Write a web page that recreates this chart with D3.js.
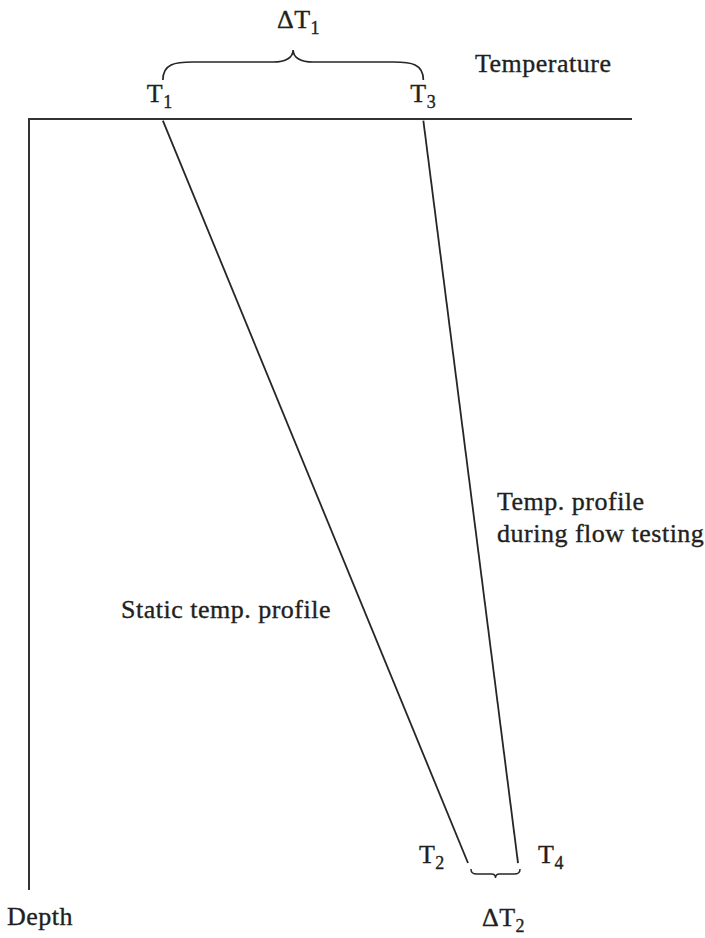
<!DOCTYPE html>
<html>
<head>
<meta charset="utf-8">
<script src="https://cdn.jsdelivr.net/npm/d3@7"></script>
<style>
  html, body { margin: 0; padding: 0; background: #fff; }
  svg text { font-family: "Liberation Serif", "Times New Roman", serif; fill: #231f20;
             stroke: #231f20; stroke-width: 0.35px; letter-spacing: 0.5px; }
</style>
</head>
<body>
<svg id="chart" width="705" height="938"></svg>
<script>
// Temperature (x, arbitrary units) and depth (y, arbitrary units) of two well profiles
const profileNames = ["Static temp. profile", "Temp. profile during flow testing"];
const topTemps = [22.2, 65.4];        // T1, T3 at surface
const bottomTemps = [72.8, 81.1];     // T2, T4 at bottom
const profileDepths = [0.2, 96.5];    // start / end depth of profiles
const topLabels = ["1", "3"];         // subscripts of T at surface
const bottomLabels = ["2", "4"];      // subscripts of T at depth

const svg = d3.select("#chart");
const x = d3.scaleLinear().domain([0, 100]).range([29, 632]);
const y = d3.scaleLinear().domain([0, 100]).range([119, 890]);

const ink = "#262626";

// axes: temperature along the top, depth down the left
svg.append("path")
  .attr("d", `M${x(0)},${y(100)} L${x(0)},${y(0)} L${x(100)},${y(0)}`)
  .attr("fill", "none").attr("stroke", "#333").attr("stroke-width", 2);

// profile lines
profileNames.forEach((name, i) => {
  svg.append("line")
    .attr("x1", x(topTemps[i])).attr("y1", y(profileDepths[0]))
    .attr("x2", x(bottomTemps[i])).attr("y2", y(profileDepths[1]))
    .attr("stroke", ink).attr("stroke-width", 1.8);
});

// horizontal curly brace from xa to xb; ends at yEnd, tip at yTip
function brace(xa, xb, yEnd, yBody, yTip) {
  const xm = (xa + xb) / 2, w = xb - xa;
  const r = Math.min(w * 0.12, 30);
  const s = Math.min(w * 0.08, 20);
  return `M${xa},${yEnd}` +
    ` C${xa},${yBody + (yEnd - yBody) * 0.1} ${xa + r * 0.4},${yBody} ${xa + r},${yBody}` +
    ` L${xm - s},${yBody}` +
    ` C${xm - s * 0.35},${yBody} ${xm},${yBody - (yBody - yTip) * 0.4} ${xm},${yTip}` +
    ` C${xm},${yBody - (yBody - yTip) * 0.4} ${xm + s * 0.35},${yBody} ${xm + s},${yBody}` +
    ` L${xb - r},${yBody}` +
    ` C${xb - r * 0.4},${yBody} ${xb},${yBody + (yEnd - yBody) * 0.1} ${xb},${yEnd}`;
}

svg.append("path")
  .attr("d", brace(x(topTemps[0]), x(topTemps[1]), 80, 62, 50))
  .attr("fill", "none").attr("stroke", ink).attr("stroke-width", 1.7);

svg.append("path")
  .attr("d", brace(x(bottomTemps[0]) + 3, x(bottomTemps[1]) + 2, 869, 874, 878))
  .attr("fill", "none").attr("stroke", ink).attr("stroke-width", 1.5);

// label with subscript
function subLabel(px, py, main, sub, anchor) {
  const t = svg.append("text").attr("x", px).attr("y", py)
    .attr("font-size", 26).attr("text-anchor", anchor || "start");
  t.append("tspan").text(main);
  t.append("tspan").attr("font-size", 18).attr("dy", 6).text(sub);
  return t;
}

subLabel(x(topTemps[0]) - 16, 102, "T", topLabels[0]);
subLabel(x(topTemps[1]) - 13, 102, "T", topLabels[1]);
subLabel(x(bottomTemps[0]) - 49, 863, "T", bottomLabels[0]);
subLabel(x(bottomTemps[1]) + 20, 863, "T", bottomLabels[1]);

subLabel(277, 28, "\u0394T", "1");
subLabel(482, 926, "\u0394T", "2");

svg.append("text").attr("x", 475).attr("y", 72).attr("font-size", 26).text("Temperature");
svg.append("text").attr("x", 7).attr("y", 925).attr("font-size", 26).text("Depth");
svg.append("text").attr("x", 121).attr("y", 618).attr("font-size", 26).text(profileNames[0]);

const flow = svg.append("text").attr("x", 497).attr("y", 510).attr("font-size", 26);
flow.append("tspan").attr("x", 497).text("Temp. profile");
flow.append("tspan").attr("x", 497).attr("dy", 32).text("during flow testing");
</script>
</body>
</html>
